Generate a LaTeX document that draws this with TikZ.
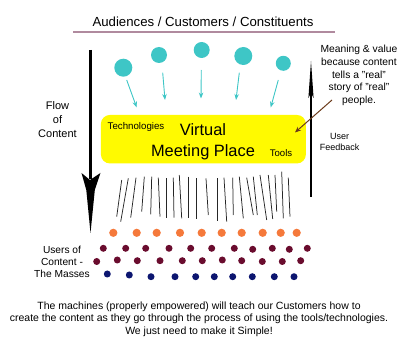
\documentclass[tikz,border=0pt]{standalone}
\usepackage{fontspec}
\setmainfont{Liberation Sans}
\usetikzlibrary{arrows.meta}
\definecolor{cyanball}{RGB}{62,198,198}
\definecolor{boxyellow}{RGB}{255,250,0}
\definecolor{dotorange}{RGB}{245,121,59}
\definecolor{dotmaroon}{RGB}{106,12,46}
\definecolor{dotnavy}{RGB}{12,22,112}
\definecolor{brownarrow}{RGB}{107,58,26}
\definecolor{underline}{RGB}{176,138,158}
\tikzset{
  ball/.style={circle,fill=cyanball,inner sep=0pt},
  fallarrow/.style={draw=cyanball,line width=0.9pt,-{Stealth[length=6pt,width=4.5pt]}},
  hair/.style={black!85,line width=0.75pt},
  txt/.style={inner sep=0pt,align=center},
}
\begin{document}
\begin{tikzpicture}[x=1pt,y=-1pt]
\useasboundingbox (0,0) rectangle (400,345);
% title
\node[txt,font=\fontsize{13.2}{15}\selectfont] (title) at (203,22) {Audiences / Customers / Constituents};
\coordinate (ulA) at (73,32);
\coordinate (ulB) at (335,32);
\draw[underline,line width=1.4pt] (ulA) -- (ulB);
% cyan balls
\node[ball,minimum size=18pt] (b1) at (123.3,67.7) {};
\node[ball,minimum size=16pt] (b2) at (159,55) {};
\node[ball,minimum size=16pt] (b3) at (201.7,50) {};
\node[ball,minimum size=18pt] (b4) at (243.3,56) {};
\node[ball,minimum size=15pt] (b5) at (283.3,63.3) {};
\coordinate (t1) at (136.7,107.5);
\coordinate (t2) at (165,100);
\coordinate (t3) at (201,98.5);
\coordinate (t4) at (236,100);
\coordinate (t5) at (270.7,107.5);
\coordinate (s1) at (126.7,80);
\coordinate (s2) at (162.7,72.7);
\coordinate (s3) at (201.3,70);
\coordinate (s4) at (239.3,72.7);
\coordinate (s5) at (278.3,80);
\foreach \i in {1,...,5} \draw[fallarrow] (s\i) -- (t\i);
% yellow box
\node[fill=boxyellow,rounded corners=9pt,minimum width=205pt,minimum height=48.5pt,inner sep=0pt] (box) at (203.4,139.2) {};
\node[txt,font=\fontsize{9.7}{11}\selectfont] (tech) at (136,127.3) {Technologies};
\node[txt,font=\fontsize{16.4}{20.6}\selectfont] (vmp) at (203,141.5) {Virtual\\Meeting Place};
\node[txt,font=\fontsize{9.6}{11}\selectfont] (tools) at (281,153.5) {Tools};
% left flow arrow
\coordinate (fa) at (90,50);
\coordinate (fbot) at (90,179);
\draw[black,line width=3pt] (fa) -- (fbot);
\fill[black] (90,180) -- (81.5,173) -- (86.3,190) -- (90.5,233) -- (94.8,190) -- (100.5,173) -- cycle;
\node[txt,font=\fontsize{11}{13.8}\selectfont] (flow) at (57.5,119.5) {Flow\\of\\Content};
% right feedback arrow
\coordinate (ra) at (311,197);
\coordinate (rb) at (311,92);
\draw[black,line width=1.3pt] (ra) -- (rb);
\fill[black] (311,61) -- (313.6,98) -- (311,93) -- (308.4,98) -- cycle;
\node[txt,font=\fontsize{9}{10.6}\selectfont] (feedback) at (339.7,142) {User\\Feedback};
\node[txt,font=\fontsize{10.3}{12.7}\selectfont] (mean) at (359,75.5) {Meaning \& value\\because content\\tells a "real"\\story of "real"\\people.};
\coordinate (ma) at (332,100);
\coordinate (mb) at (295,132.5);
\draw[brownarrow,line width=1pt,-{Stealth[length=6pt,width=5pt]}] (ma) -- (mb);
% hair lines
\foreach \xa/\ya/\xb/\yb in {
121.7/180/116.7/216.7, 128.3/178.3/120.7/221.7, 136/177.7/130.7/217.7,
144.3/176.7/141.7/211.7, 151.7/176.7/150.7/214.3, 158.3/177.7/160/216.7,
166.7/178.3/166.7/218.3, 173.3/177.7/174/217.7, 179.3/175/181.7/218.3,
188.3/176.7/188.3/218.3, 196.7/178.3/196.7/219, 206/178.3/208.3/215,
217.3/178.3/217.3/221, 224/177.7/226.7/221.7, 232.7/177.7/233.3/215,
239.3/176.7/243.3/218.3, 246.7/177.7/253.3/215, 253.3/176.7/257.3/215,
260/175/266.7/220, 268.3/175/272.7/219, 275/175/276.7/211.7,
281.7/171.7/283.3/218.3, 288.3/177.7/290/216.7}
  \draw[hair] (\xa,\ya) -- (\xb,\yb);
% dots
\foreach \x in {113.3,136.7,156.7,180,201.7,221.7,241.7,262.7,280.7,296.7}
  \fill[dotorange] (\x,232.8) circle (4.1);
\foreach \x/\y in {103.3/248.3,125.7/248.3,145.7/248.3,169/248.3,190.7/248.3,211.7/248.3,234.3/248.3,252.7/249.3,272.3/248.3,289.3/249.3,307.3/248.3}
  \fill[dotmaroon] (\x,\y) circle (3.5);
\foreach \x/\y in {96.7/261.5,117.3/260,137.3/260.7,160/260.7,182.3/260.7,202.3/260.7,222.3/260,241.7/260.7,262.3/261.5,282.3/261.5,300.7/260.7}
  \fill[dotmaroon] (\x,\y) circle (3.5);
\foreach \x/\y in {107.3/274,129.3/275,151/276.7,175/276.7,195.7/276.7,214.3/276.7,232.7/276.7,252.3/276.7,274.3/276.7,294/276.7}
  \fill[dotnavy] (\x,\y) circle (3.5);
\node[txt,font=\fontsize{10.2}{12}\selectfont] (users) at (62,262) {Users of\\Content -\\The Masses};
% bottom text
\node[txt,font=\fontsize{10.5}{12.3}\selectfont] (bottom) at (199,319) {The machines (properly empowered) will teach our Customers how to\\create the content as they go through the process of using the tools/technologies.\\We just need to make it Simple!};
\end{tikzpicture}
\end{document}
